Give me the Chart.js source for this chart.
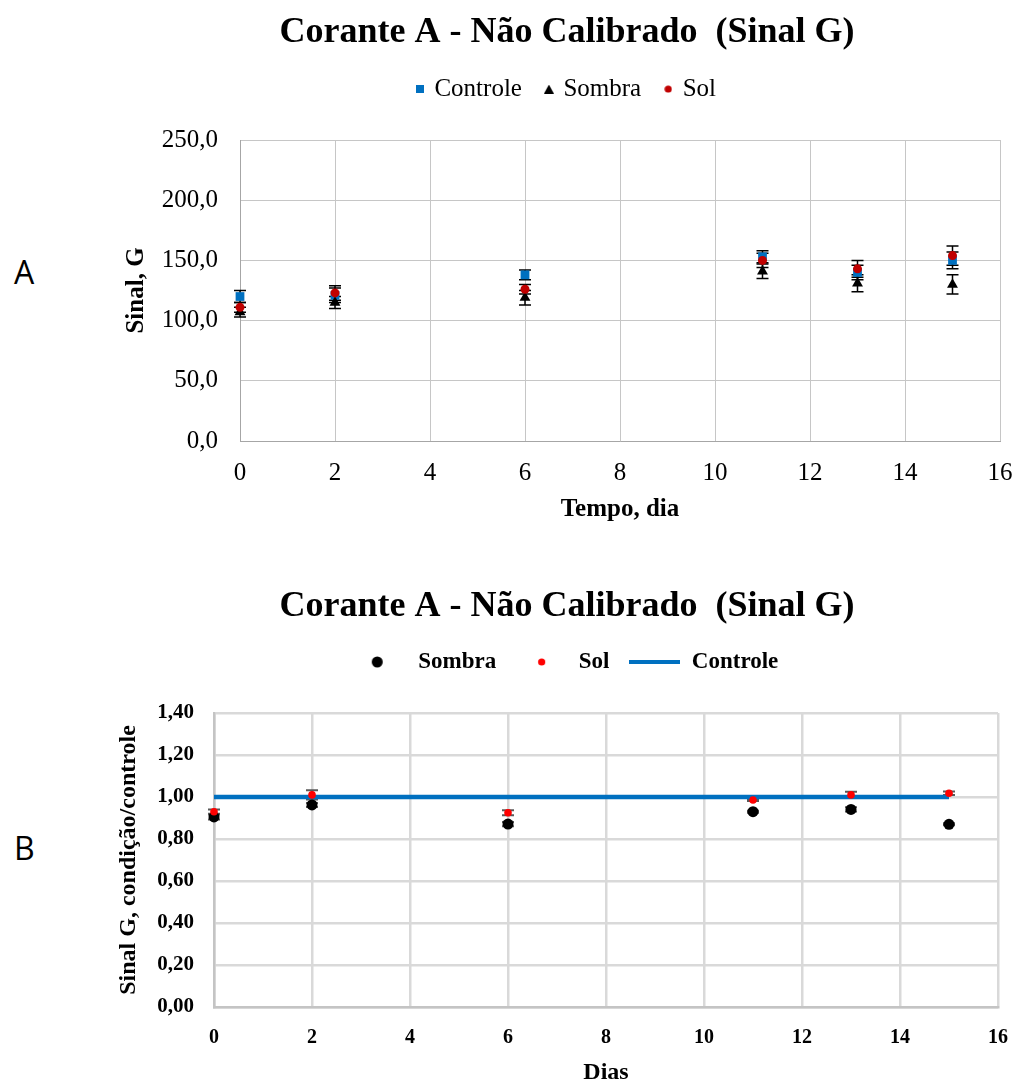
<!DOCTYPE html>
<html>
<head>
<meta charset="utf-8">
<script src="https://cdn.jsdelivr.net/npm/chart.js@4.4.1/dist/chart.umd.min.js"></script>
<style>
  html, body { margin:0; padding:0; background:#fff; }
  body { width:1016px; height:1082px; overflow:hidden; position:relative; }
  canvas { position:absolute; left:0; }
  .panel { position:absolute; font-family:'Open Sans','Noto Sans',sans-serif; font-size:32px; line-height:32px; color:#000; }
</style>
</head>
<body>
<div class="panel" style="left:14px;top:256px;">A</div>
<div class="panel" style="left:14px;top:832px;">B</div>
<canvas id="cA" width="1016" height="530" style="top:0;width:1016px;height:530px;"></canvas>
<canvas id="cB" width="1016" height="530" style="top:560px;width:1016px;height:530px;"></canvas>
<script>
// ---------------- DATA ----------------
const days = [0, 2, 6, 11, 13, 15];

// Chart A: raw signal G
const controleA    = [120, 121, 138, 153, 140, 150];
const controleAErr = [5, 6, 4, 5, 6, 7];
const sombraA      = [107, 115, 119, 141, 131, 130];
const sombraAErr   = [4, 5, 6, 6, 7, 8];
const solA         = [111, 123, 126, 150, 143, 154];
const solAErr      = [4, 6, 4, 6, 7, 8];

// Chart B: ratio condição/controle
const sombraB    = [0.905, 0.962, 0.871, 0.930, 0.941, 0.870];
const sombraBErr = [0.012, 0.010, 0.010, 0.005, 0.010, 0.005];
const solB       = [0.930, 1.010, 0.925, 0.986, 1.010, 1.018];
const solBErr    = [0.010, 0.022, 0.012, 0.005, 0.015, 0.008];
const controleB  = [1.00, 1.00, 1.00, 1.00, 1.00, 1.00];

// Tick values / labels
const xTicks = [0, 2, 4, 6, 8, 10, 12, 14, 16];
const xTickLabels = ['0', '2', '4', '6', '8', '10', '12', '14', '16'];
const yTicksA = [0, 50, 100, 150, 200, 250];
const yTickLabelsA = ['0,0', '50,0', '100,0', '150,0', '200,0', '250,0'];
const yTicksB = [0, 0.2, 0.4, 0.6, 0.8, 1.0, 1.2, 1.4];
const yTickLabelsB = ['0,00', '0,20', '0,40', '0,60', '0,80', '1,00', '1,20', '1,40'];

const titleText = 'Corante A - Não Calibrado  (Sinal G)';

// ---------------- HELPERS ----------------
const SERIF = "'Liberation Serif', 'Times New Roman', serif";
Chart.defaults.color = '#000';
Chart.defaults.font.family = SERIF;

function pts(xs, ys) { return xs.map((x, i) => ({ x: x, y: ys[i] })); }

function mkImg(w, h, draw) {
  const c = document.createElement('canvas');
  c.width = w; c.height = h;
  draw(c.getContext('2d'), w, h);
  return c;
}

const spacerPlugin = {
  id: 'spacer',
  start(chart, args, opts) {
    const box = {
      position: 'top', weight: 10, fullSize: true, options: { display: true },
      left: 0, top: 0, right: 0, bottom: 0, width: 0, height: 0,
      update(maxWidth) { this.width = maxWidth; this.height = opts.height || 0; },
      isHorizontal() { return true; },
      draw() {}
    };
    if (Chart.layouts && Chart.layouts.addBox) {
      Chart.layouts.addBox(chart, box);
    } else {
      box._layers = () => [{ z: 0, draw() {} }];
      chart.boxes.push(box);
    }
  }
};

function makeErrorBars(series, color, width, capHalf) {
  return {
    id: 'errorBars',
    beforeDatasetsDraw(chart) {
      const { ctx } = chart;
      const xs = chart.scales.x, ys = chart.scales.y;
      ctx.save();
      ctx.strokeStyle = color;
      ctx.lineWidth = width;
      series.forEach(s => {
        s.values.forEach((v, i) => {
          const px = xs.getPixelForValue(s.xs[i]);
          const pt = ys.getPixelForValue(v + s.err[i]);
          const pb = ys.getPixelForValue(v - s.err[i]);
          ctx.beginPath();
          ctx.moveTo(px, pt); ctx.lineTo(px, pb);
          ctx.moveTo(px - capHalf, pt); ctx.lineTo(px + capHalf, pt);
          ctx.moveTo(px - capHalf, pb); ctx.lineTo(px + capHalf, pb);
          ctx.stroke();
        });
      });
      ctx.restore();
    }
  };
}

// ---------------- LEGEND IMAGES ----------------
const legendImgsA = [
  mkImg(8, 8, (c) => { c.fillStyle = '#0070C0'; c.fillRect(0, 0, 8, 8); }),
  mkImg(10, 9, (c) => { c.fillStyle = '#000'; c.beginPath(); c.moveTo(5, 0); c.lineTo(10, 9); c.lineTo(0, 9); c.closePath(); c.fill(); }),
  mkImg(8, 8, (c) => { c.fillStyle = '#C00000'; c.beginPath(); c.arc(4, 4, 3.6, 0, Math.PI * 2); c.fill(); })
];
const legendImgsB = [
  mkImg(51, 14, (c) => { c.fillStyle = '#000'; c.beginPath(); c.arc(21.5, 7, 5.5, 0, Math.PI * 2); c.fill(); }),
  mkImg(51, 14, (c) => { c.fillStyle = '#FF0000'; c.beginPath(); c.arc(25.5, 7, 3.6, 0, Math.PI * 2); c.fill(); }),
  mkImg(51, 14, (c) => { c.fillStyle = '#0070C0'; c.fillRect(0, 5, 51, 4); })
];

function genLabels(imgs) {
  return function (chart) {
    const items = Chart.defaults.plugins.legend.labels.generateLabels(chart);
    items.sort((a, b) => a.datasetIndex - b.datasetIndex);
    items.forEach(it => { it.pointStyle = imgs[it.datasetIndex]; it.fontColor = '#000'; });
    return items;
  };
}

// ---------------- CHART A ----------------
new Chart(document.getElementById('cA'), {
  type: 'scatter',
  data: {
    datasets: [
      { label: 'Controle', data: pts(days, controleA), order: 3, clip: false,
        pointStyle: 'rect', pointRadius: 6.2, pointBackgroundColor: '#0070C0', pointBorderColor: '#0070C0', pointBorderWidth: 0 },
      { label: 'Sombra', data: pts(days, sombraA), order: 2, clip: false,
        pointStyle: 'triangle', pointRadius: 6.3, pointBackgroundColor: '#000', pointBorderColor: '#000', pointBorderWidth: 0 },
      { label: 'Sol', data: pts(days, solA), order: 1, clip: false,
        pointStyle: 'circle', pointRadius: 4.5, pointBackgroundColor: '#C00000', pointBorderColor: '#C00000', pointBorderWidth: 0 }
    ]
  },
  plugins: [spacerPlugin, makeErrorBars([
    { xs: days, values: controleA, err: controleAErr },
    { xs: days, values: sombraA, err: sombraAErr },
    { xs: days, values: solA, err: solAErr }
  ], '#000', 1.5, 6)],
  options: {
    responsive: false, animation: false, devicePixelRatio: 1,
    layout: { padding: { left: 134, right: 16, top: 0, bottom: 0 } },
    plugins: {
      tooltip: { enabled: false },
      spacer: { height: 28.4 },
      title: { display: true, text: titleText, color: '#000',
        font: { family: SERIF, size: 36, weight: 'bold', lineHeight: 1.2 },
        padding: { top: 11, bottom: -2.6 } },
      legend: { display: true, position: 'top',
        labels: { usePointStyle: true, pointStyleWidth: 4, padding: 25, color: '#000',
          font: { family: SERIF, size: 25 }, generateLabels: genLabels(legendImgsA) } }
    },
    scales: {
      x: { type: 'linear', min: 0, max: 16,
        afterBuildTicks: (s) => { s.ticks = xTicks.map(v => ({ value: v })); },
        afterFit: (s) => { s.height = 89; },
        ticks: { autoSkip: false, maxRotation: 0, padding: 0, color: '#000',
          font: { family: SERIF, size: 25, lineHeight: '64px' }, callback: (v, i) => xTickLabels[i] },
        grid: { color: '#c6c6c6', lineWidth: 1, drawTicks: false },
        border: { color: '#a6a6a6', width: 1 },
        title: { display: true, text: 'Tempo, dia', color: '#000',
          font: { family: SERIF, size: 25, weight: 'bold', lineHeight: 1.2 }, padding: { top: 0, bottom: 5 } } },
      y: { type: 'linear', min: 0, max: 250,
        afterBuildTicks: (s) => { s.ticks = yTicksA.map(v => ({ value: v })); },
        afterFit: (s) => { s.width = 106; },
        ticks: { padding: 22, color: '#000', font: { family: SERIF, size: 25 },
          callback: (v, i) => yTickLabelsA[i] },
        grid: { color: '#c6c6c6', lineWidth: 1, drawTicks: false },
        border: { color: '#a6a6a6', width: 1 },
        title: { display: true, text: 'Sinal, G', color: '#000',
          font: { family: SERIF, size: 25, weight: 'bold', lineHeight: 1.2 }, padding: { top: -12, bottom: 0 } } }
    }
  }
});

// ---------------- CHART B ----------------
new Chart(document.getElementById('cB'), {
  type: 'scatter',
  data: {
    datasets: [
      { label: 'Sombra', data: pts(days, sombraB), order: 1, clip: false,
        pointStyle: 'circle', pointRadius: 5.5, pointBackgroundColor: '#000', pointBorderColor: '#000', pointBorderWidth: 0 },
      { label: 'Sol', data: pts(days, solB), order: 0, clip: false,
        pointStyle: 'circle', pointRadius: 3.8, pointBackgroundColor: '#FF0000', pointBorderColor: '#FF0000', pointBorderWidth: 0 },
      { label: 'Controle', data: pts(days, controleB), order: 2, clip: false, showLine: true,
        borderColor: '#0070C0', backgroundColor: '#0070C0', borderWidth: 4.5, pointRadius: 0, pointStyle: 'line' }
    ]
  },
  plugins: [spacerPlugin, makeErrorBars([
    { xs: days, values: sombraB, err: sombraBErr },
    { xs: days, values: solB, err: solBErr }
  ], '#595959', 2, 6)],
  options: {
    responsive: false, animation: false, devicePixelRatio: 1,
    layout: { padding: { left: 136, right: 18, top: 0, bottom: 0 } },
    plugins: {
      tooltip: { enabled: false },
      spacer: { height: 29.5 },
      title: { display: true, text: titleText, color: '#000',
        font: { family: SERIF, size: 36, weight: 'bold', lineHeight: 1.2 },
        padding: { top: 25.4, bottom: 1.9 } },
      legend: { display: true, position: 'top',
        labels: { usePointStyle: true, pointStyleWidth: 51, padding: 20, color: '#000',
          font: { family: SERIF, size: 23, weight: 'bold' }, generateLabels: genLabels(legendImgsB) } }
    },
    scales: {
      x: { type: 'linear', min: 0, max: 16,
        afterBuildTicks: (s) => { s.ticks = xTicks.map(v => ({ value: v })); },
        afterFit: (s) => { s.height = 83; },
        ticks: { autoSkip: false, maxRotation: 0, padding: 0, color: '#000',
          font: { family: SERIF, size: 20, weight: 'bold', lineHeight: '62px' }, callback: (v, i) => xTickLabels[i] },
        grid: { color: '#d9d9d9', lineWidth: 2.5, drawTicks: false },
        border: { color: '#c4c4c4', width: 2.5 },
        title: { display: true, text: 'Dias', color: '#000',
          font: { family: SERIF, size: 24, weight: 'bold', lineHeight: 1.2 }, padding: { top: 0, bottom: 2.6 } } },
      y: { type: 'linear', min: 0, max: 1.4,
        afterBuildTicks: (s) => { s.ticks = yTicksB.map(v => ({ value: v })); },
        afterFit: (s) => { s.width = 78; },
        ticks: { padding: 20, color: '#000', font: { family: SERIF, size: 21, weight: 'bold' },
          callback: (v, i) => yTickLabelsB[i] },
        grid: { color: '#d9d9d9', lineWidth: 2.5, drawTicks: false },
        border: { color: '#c4c4c4', width: 2.5 },
        title: { display: true, text: 'Sinal G, condição/controle', color: '#000',
          font: { family: SERIF, size: 24, weight: 'bold', lineHeight: 1.2 }, padding: { top: -21.4, bottom: 0 } } }
    }
  }
});
</script>
</body>
</html>
